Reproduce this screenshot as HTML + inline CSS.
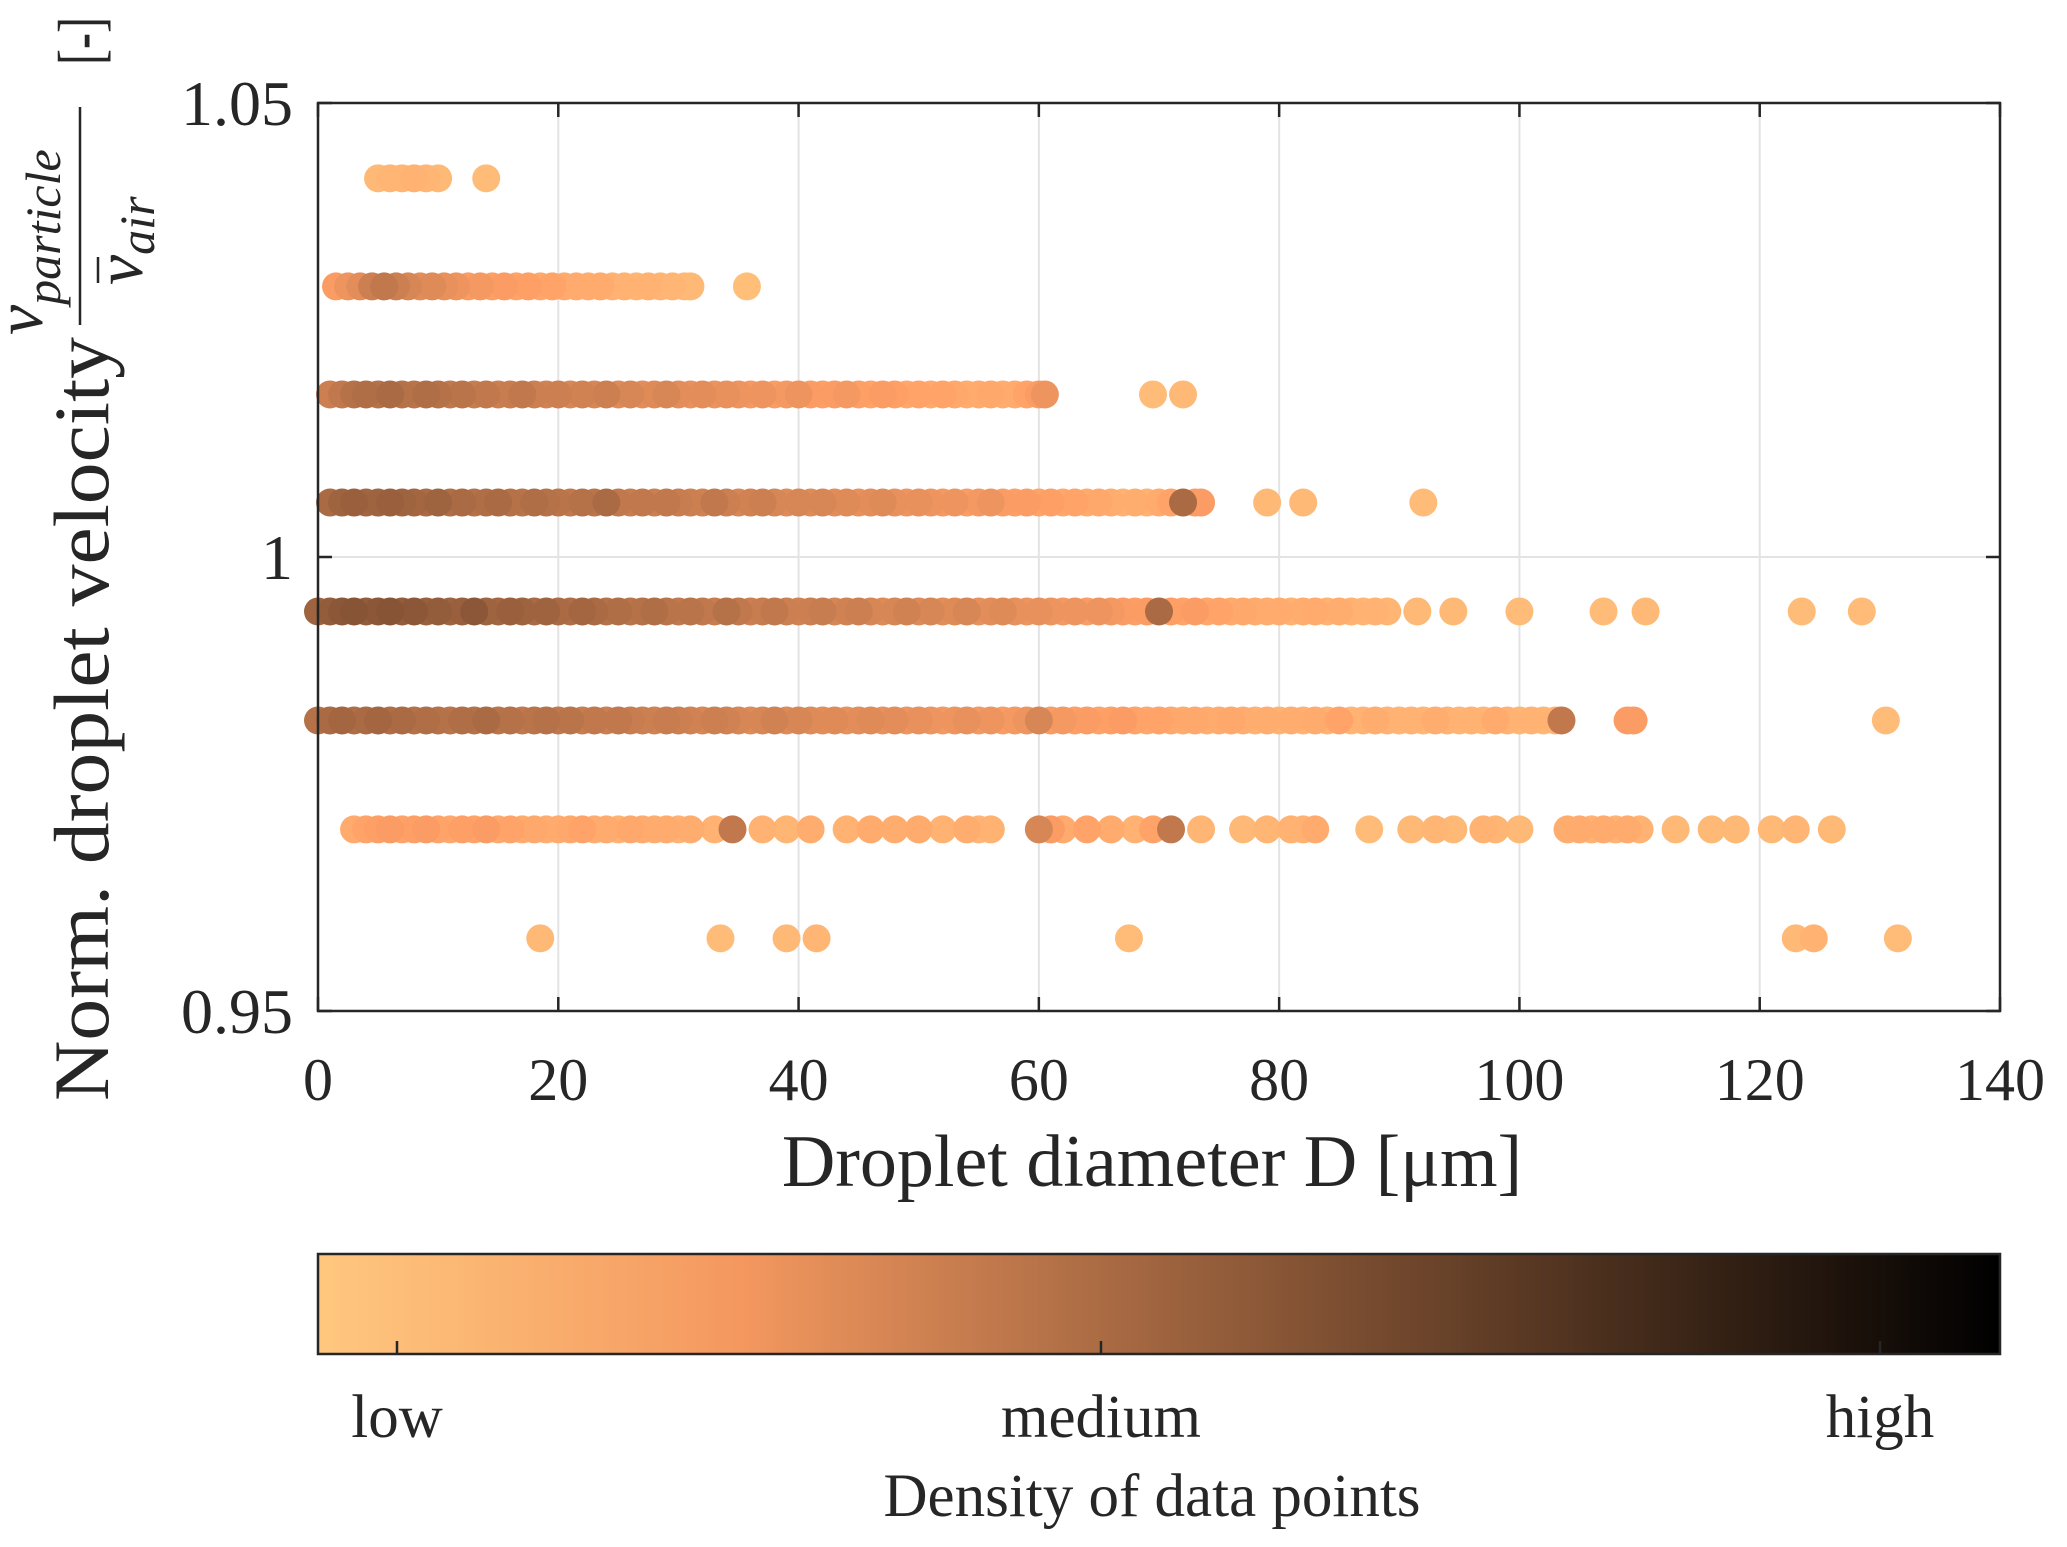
<!DOCTYPE html>
<html><head><meta charset="utf-8"><style>
html,body{margin:0;padding:0;background:#fff}
svg{display:block;font-family:"Liberation Serif",serif}
</style></head><body>
<svg id="chart" width="2067" height="1547" viewBox="0 0 2067 1547" xmlns="http://www.w3.org/2000/svg">
<defs>
<linearGradient id="cmap" x1="0" x2="1" y1="0" y2="0">
<stop offset="0" stop-color="#ffc77f"/>
<stop offset="0.25" stop-color="#f4985f"/>
<stop offset="0.5" stop-color="#9f643f"/>
<stop offset="0.75" stop-color="#4f321f"/>
<stop offset="1" stop-color="#000"/>
</linearGradient>
</defs>
<rect x="318" y="103" width="1682" height="908" fill="#fff"/>
<g id="grid"></g>
<g id="points"></g>
<rect x="318" y="103" width="1682" height="908" fill="none" stroke="#262626" stroke-width="2.5"/>
<g id="ticks"></g>
<text x="1152" y="1186" font-size="74" text-anchor="middle" fill="#262626">Droplet diameter D [μm]</text>
<g transform="translate(0,1547) rotate(-90)" fill="#262626">
<text x="446" y="108" font-size="78" textLength="764" lengthAdjust="spacingAndGlyphs">Norm. droplet velocity</text>
<text x="1212" y="42" font-size="68" font-style="italic">v<tspan font-size="50" dy="18">particle</tspan></text>
<line x1="1222" x2="1440" y1="80" y2="80" stroke="#262626" stroke-width="2.5"/>
<text x="1262" y="142" font-size="68" font-style="italic">v<tspan font-size="50" dy="12">air</tspan></text>
<line x1="1264" x2="1290" y1="98" y2="98" stroke="#262626" stroke-width="2.5"/>
<text x="1482" y="102" font-size="64" textLength="48" lengthAdjust="spacingAndGlyphs">[-]</text>
</g>
<rect x="318" y="1254" width="1682" height="100" fill="url(#cmap)" stroke="#262626" stroke-width="2.5"/>
<line x1="397" x2="397" y1="1354" y2="1341" stroke="#262626" stroke-width="2.5"/>
<line x1="1101" x2="1101" y1="1354" y2="1341" stroke="#262626" stroke-width="2.5"/>
<line x1="1880" x2="1880" y1="1354" y2="1341" stroke="#262626" stroke-width="2.5"/>
<text x="397" y="1437" font-size="61" text-anchor="middle" fill="#262626">low</text>
<text x="1101" y="1437" font-size="61" text-anchor="middle" fill="#262626">medium</text>
<text x="1880" y="1437" font-size="61" text-anchor="middle" fill="#262626">high</text>
<text x="1152" y="1516" font-size="61" text-anchor="middle" fill="#262626">Density of data points</text>
</svg>
<script>
const xTicks=[0,20,40,60,80,100,120,140];
const yTicks=[0.95,1,1.05];
const yTickLabels=["0.95","1","1.05"];
const rowLevels=[1.0417,1.0298,1.0179,1.006,0.994,0.982,0.970,0.958];
const xsA=[5,6,7,8,9,10,14];
const dsA=[.1,.12,.12,.15,.12,.1,.08];
const xsB=[1.5,2.5,3.5,4.5,5.5,6.5,7.5,8.5,9.5,10.5,11.5,12.5,13.5,14.5,15.5,16.5,17.5,18.5,19.5,20.5,21.5,22.5,23.5,24.5,25.5,26.5,27.5,28.5,29.5,30.5,31,35.7];
const dsB=[.3,.35,.4,.5,.55,.5,.45,.4,.42,.38,.35,.3,.32,.28,.3,.25,.28,.22,.25,.2,.2,.18,.2,.15,.15,.12,.15,.12,.12,.1,.1,.06];
const xsC=[1,2,3,4,5,6,7,8,9,10,11,12,13,14,15,16,17,18,19,20,21,22,23,24,25,26,27,28,29,30,31,32,33,34,35,36,37,38,39,40,41,42,43,44,45,46,47,48,49,50,51,52,53,54,55,56,57,58,59,60,60.5,69.5,72];
const dsC=[.5,.55,.6,.62,.6,.65,.6,.58,.62,.6,.55,.58,.52,.55,.5,.52,.55,.5,.48,.5,.45,.48,.45,.5,.42,.45,.4,.42,.45,.4,.38,.4,.36,.38,.35,.32,.35,.3,.32,.35,.3,.28,.3,.32,.28,.25,.3,.28,.22,.25,.2,.25,.22,.18,.2,.22,.18,.2,.25,.3,.35,.08,.1];
const xsD=[1,2,3,4,5,6,7,8,9,10,11,12,13,14,15,16,17,18,19,20,21,22,23,24,25,26,27,28,29,30,31,32,33,34,35,36,37,38,39,40,41,42,43,44,45,46,47,48,49,50,51,52,53,54,55,56,57,58,59,60,61,62,63,64,65,66,67,68,69,70,71,72,73,73.5,79,82,92];
const dsD=[.65,.7,.72,.68,.7,.72,.7,.68,.65,.7,.62,.65,.6,.62,.65,.6,.58,.62,.6,.58,.55,.6,.58,.65,.55,.52,.55,.5,.55,.52,.5,.48,.55,.5,.45,.48,.5,.45,.42,.45,.42,.45,.4,.42,.38,.4,.42,.38,.35,.38,.35,.32,.35,.3,.32,.35,.3,.28,.3,.25,.28,.22,.25,.2,.22,.18,.15,.18,.15,.2,.25,.65,.3,.3,.1,.1,.08];
const xsE=[0,1,2,3,4,5,6,7,8,9,10,11,12,13,14,15,16,17,18,19,20,21,22,23,24,25,26,27,28,29,30,31,32,33,34,35,36,37,38,39,40,41,42,43,44,45,46,47,48,49,50,51,52,53,54,55,56,57,58,59,60,61,62,63,64,65,66,67,68,69,70,71,72,73,74,75,76,77,78,79,80,81,82,83,84,85,86,87,88,89,91.5,94.5,100,107,110.5,123.5,128.5];
const dsE=[.7,.75,.78,.8,.75,.78,.8,.75,.78,.72,.75,.7,.72,.78,.7,.68,.72,.7,.65,.7,.65,.62,.68,.65,.6,.62,.58,.6,.62,.58,.55,.58,.55,.52,.6,.55,.5,.52,.55,.5,.48,.5,.52,.45,.48,.5,.45,.42,.45,.48,.42,.45,.4,.42,.45,.38,.4,.42,.38,.35,.38,.35,.32,.35,.3,.35,.32,.3,.28,.3,.65,.28,.25,.3,.22,.25,.2,.22,.2,.18,.2,.15,.18,.2,.15,.18,.15,.12,.15,.12,.1,.1,.08,.08,.1,.08,.08];
const xsF=[0,1,2,3,4,5,6,7,8,9,10,11,12,13,14,15,16,17,18,19,20,21,22,23,24,25,26,27,28,29,30,31,32,33,34,35,36,37,38,39,40,41,42,43,44,45,46,47,48,49,50,51,52,53,54,55,56,57,58,59,60,61,62,63,64,65,66,67,68,69,70,71,72,73,74,75,76,77,78,79,80,81,82,83,84,85,86,87,88,89,90,91,92,93,94,95,96,97,98,99,100,101,102,103,103.5,109,109.5,130.5];
const dsF=[.6,.65,.68,.62,.65,.68,.62,.65,.6,.62,.6,.58,.62,.6,.65,.58,.6,.55,.58,.6,.55,.58,.52,.55,.5,.55,.52,.5,.48,.52,.5,.48,.45,.5,.48,.45,.42,.45,.48,.42,.45,.42,.4,.42,.38,.4,.42,.38,.4,.35,.38,.35,.32,.35,.38,.32,.35,.3,.32,.35,.45,.3,.32,.28,.3,.25,.28,.3,.25,.22,.25,.22,.2,.22,.18,.2,.22,.18,.15,.18,.15,.18,.15,.2,.15,.25,.12,.15,.18,.15,.12,.15,.12,.18,.15,.12,.15,.12,.2,.15,.12,.15,.12,.15,.55,.3,.3,.08];
const xsG=[3,4,5,6,7,8,9,10,11,12,13,14,15,16,17,18,19,20,21,22,23,24,25,26,27,28,29,30,31,33,34.5,37,39,41,44,46,48,50,52,54,55,56,60,61,62,64,66,68,69.5,71,73.5,77,79,81,82,83,87.5,91,93,94.5,97,98,100,104,105,106,107,108,109,110,113,116,118,121,123,126];
const dsG=[.2,.25,.28,.3,.25,.28,.3,.25,.22,.28,.25,.3,.22,.25,.2,.22,.18,.2,.22,.25,.18,.2,.15,.22,.2,.18,.2,.15,.18,.15,.55,.15,.12,.18,.15,.2,.18,.2,.15,.18,.12,.15,.45,.3,.2,.25,.2,.15,.25,.55,.12,.1,.12,.15,.15,.2,.08,.1,.12,.1,.15,.12,.1,.18,.2,.15,.2,.15,.2,.15,.1,.1,.1,.1,.12,.1];
const xsH=[18.5,33.5,39,41.5,67.5,123,124.5,131.5];
const dsH=[.1,.08,.1,.12,.08,.1,.15,.08];
const rowXs=[xsA,xsB,xsC,xsD,xsE,xsF,xsG,xsH];
const rowDs=[dsA,dsB,dsC,dsD,dsE,dsF,dsG,dsH];

const L=318,R=2000,T=103,B=1011,NS='http://www.w3.org/2000/svg';
const xS=v=>L+(v-0)/(140-0)*(R-L);
const yS=v=>B-(v-0.95)/(1.05-0.95)*(B-T);
function color(d){const t=1-0.72*d;return `rgb(${Math.round(255*Math.min(1,1.25*t))},${Math.round(255*0.7812*t)},${Math.round(255*0.4975*t)})`;}
function mk(tag,attrs,parent){const e=document.createElementNS(NS,tag);for(const k in attrs)e.setAttribute(k,attrs[k]);parent.appendChild(e);return e;}
const grid=document.getElementById('grid'),ticks=document.getElementById('ticks'),pts=document.getElementById('points'),svg=document.getElementById('chart');
xTicks.forEach(v=>{
  const x=xS(v);
  if(v>0&&v<140){const g=mk('line',{x1:x,x2:x,y1:T,y2:B,stroke:'#e3e3e3','stroke-width':2},grid);
  
  }
  const t1=mk('path',{d:`M${x},${B}V${B-14}M${x},${T}V${T+14}`,stroke:'#262626','stroke-width':2.5},ticks);
  
  
  const lb=mk('text',{x:x,y:1100,'font-size':60,'text-anchor':'middle',fill:'#262626'},svg);
  lb.textContent=String(v);
  
  
});
yTicks.forEach((v,i)=>{
  const y=yS(v);
  if(i===1){const g=mk('line',{x1:L,x2:R,y1:y,y2:y,stroke:'#e3e3e3','stroke-width':2},grid);
  
  }
  const t1=mk('path',{d:`M${L},${y}H${L+14}M${R},${y}H${R-14}`,stroke:'#262626','stroke-width':2.5},ticks);
  
  
  const lb=mk('text',{x:293,y:y+22,'font-size':64,'text-anchor':'end',fill:'#262626'},svg);
  lb.textContent=yTickLabels[i];
  
  
});
const all=[];
rowLevels.forEach((lv,r)=>{rowXs[r].forEach((x,j)=>all.push([x,lv,rowDs[r][j]]));});
all.sort((a,b)=>a[2]-b[2]);
all.forEach(p=>{
  const c=mk('circle',{cx:xS(p[0]),cy:yS(p[1]),r:14,fill:color(p[2])},pts);
  
  
});
</script>
</body></html>
